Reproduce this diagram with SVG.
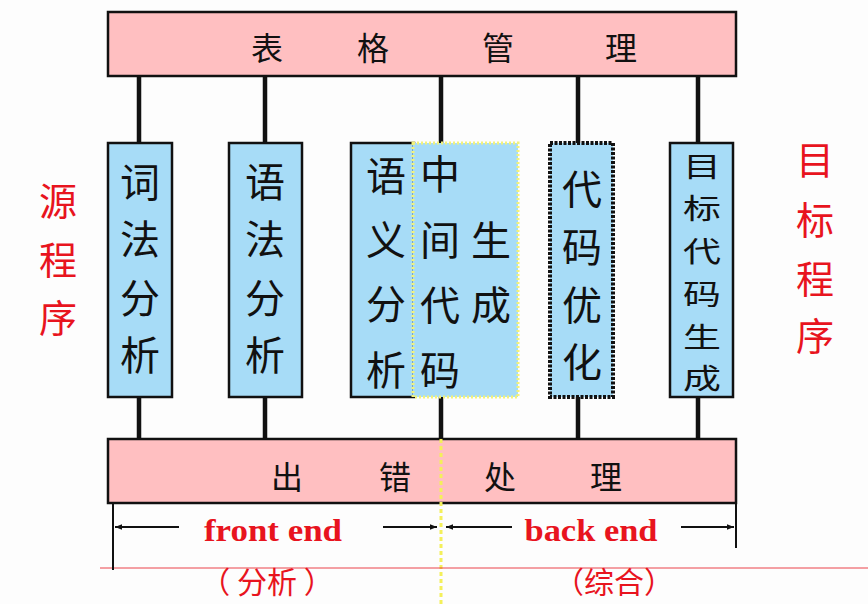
<svg xmlns="http://www.w3.org/2000/svg" width="868" height="604" viewBox="0 0 868 604">
<style>
.bar{fill:#ffbfc1;stroke:#111;stroke-width:2.5}
.box{fill:#a7dcf7;stroke:#111;stroke-width:2.5}
.cj{font-family:"Noto Sans CJK SC","Noto Sans",sans-serif;fill:#111;text-anchor:middle;dominant-baseline:central}
.bt{font-size:40px}
.red{fill:#e8141e}
.conn{stroke:#111;stroke-width:4.5;fill:none}
.dim{stroke:#111;stroke-width:2;fill:none}
.en{font-family:"Liberation Serif",serif;font-weight:bold;font-size:32px;fill:#e8141e;text-anchor:middle}
</style>
<defs>
<marker id="ah" viewBox="0 0 10 10" refX="10" refY="5" markerWidth="7" markerHeight="7" markerUnits="userSpaceOnUse" orient="auto-start-reverse"><path d="M0,1 L10,5 L0,9 z" fill="#111"/></marker>
</defs>
<rect width="868" height="604" fill="#fdfdfd"/>
<g id="connectors">
<path class="conn" d="M139,76V143M265,76V143M441,76V143M578,76V143M698,76V143"/>
<path class="conn" d="M139,397V439M265,397V439M441,397V439M578,397V439M698,397V439"/>
</g>
<g id="table-mgmt">
<rect class="bar" x="108" y="12" width="628" height="64"/>
<g class="cj" font-size="32"><text x="267" y="46">表</text><text x="373" y="46">格</text><text x="498" y="46">管</text><text x="621" y="46">理</text></g>
</g>
<g id="error-handling">
<rect class="bar" x="108" y="439" width="628" height="64"/>
<g class="cj" font-size="32"><text x="287" y="475">出</text><text x="395" y="475">错</text><text x="500" y="475">处</text><text x="606" y="475">理</text></g>
</g>
<g id="lexical">
<rect class="box" x="108" y="143" width="64" height="254"/>
<g class="cj bt"><text x="140" y="180">词</text><text x="140" y="237">法</text><text x="140" y="296">分</text><text x="140" y="353">析</text></g>
</g>
<g id="syntax">
<rect class="box" x="229" y="143" width="73" height="254"/>
<g class="cj bt"><text x="265" y="180">语</text><text x="265" y="237">法</text><text x="265" y="296">分</text><text x="265" y="353">析</text></g>
</g>
<g id="semantic">
<rect class="box" x="351" y="143" width="63" height="254"/>
<g class="cj bt"><text x="386" y="174">语</text><text x="386" y="238">义</text><text x="386" y="302">分</text><text x="386" y="368">析</text></g>
</g>
<g id="intermediate">
<rect x="413" y="143" width="105" height="254" fill="#a7dcf7" stroke="#f2f27a" stroke-width="3" stroke-dasharray="2,2"/>
<g class="cj bt"><text x="440" y="172">中</text><text x="440" y="238">间</text><text x="440" y="303">代</text><text x="440" y="368">码</text><text x="491" y="238">生</text><text x="491" y="303">成</text></g>
</g>
<g id="optimize">
<rect x="550" y="143" width="63" height="254" fill="#a7dcf7" stroke="#111" stroke-width="4" stroke-dasharray="3,1.5"/>
<g class="cj bt"><text x="582" y="187">代</text><text x="582" y="245">码</text><text x="582" y="303">优</text><text x="582" y="360">化</text></g>
</g>
<g id="codegen">
<rect class="box" x="670" y="143" width="63" height="254"/>
<g class="cj" font-size="38" transform="translate(702,0) scale(1,0.76)"><text x="0" y="216">目</text><text x="0" y="272">标</text><text x="0" y="329">代</text><text x="0" y="385.5">码</text><text x="0" y="442">生</text><text x="0" y="496">成</text></g>
</g>
<g id="source">
<g class="cj red" font-size="38"><text x="58" y="198">源</text><text x="58" y="257">程</text><text x="58" y="315">序</text></g>
</g>
<g id="target">
<g class="cj red" font-size="38"><text x="815" y="157">目</text><text x="815" y="217">标</text><text x="815" y="276">程</text><text x="815" y="333">序</text></g>
</g>
<g id="front-back">
<line x1="441" y1="439" x2="441" y2="604" stroke="#f4f05a" stroke-width="3" stroke-dasharray="4,3"/>
<line x1="100" y1="568" x2="868" y2="568" stroke="#e8141e" stroke-width="1" opacity="0.8"/>
<line class="dim" x1="113" y1="503" x2="113" y2="570"/>
<line class="dim" x1="736" y1="503" x2="736" y2="548"/>
<line class="dim" x1="179" y1="527" x2="115" y2="527" marker-end="url(#ah)"/>
<line class="dim" x1="383" y1="527" x2="437" y2="527" marker-end="url(#ah)"/>
<line class="dim" x1="512" y1="527" x2="446" y2="527" marker-end="url(#ah)"/>
<line class="dim" x1="681" y1="527" x2="734" y2="527" marker-end="url(#ah)"/>
<text class="en" x="273" y="541" textLength="138" lengthAdjust="spacingAndGlyphs">front end</text>
<text class="en" x="591" y="541" textLength="133" lengthAdjust="spacingAndGlyphs">back end</text>
<g class="cj red" font-size="30"><text x="267" y="580">（ 分析 ）</text><text x="614" y="580">（综合）</text></g>
</g>
</svg>
